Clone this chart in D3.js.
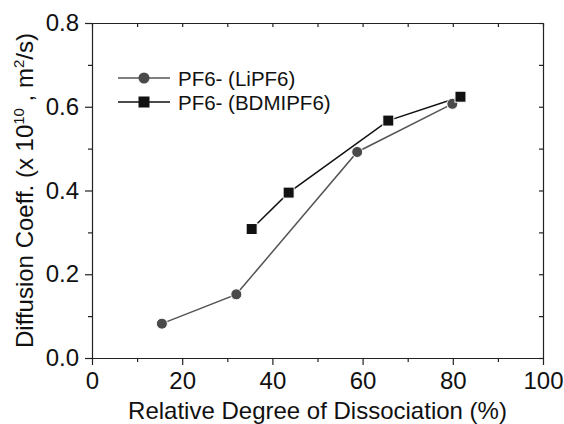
<!DOCTYPE html>
<html>
<head>
<meta charset="utf-8">
<script src="https://cdn.jsdelivr.net/npm/d3@7"></script>
<style>
  body { margin: 0; background: #fff; }
  text { font-family: Arial, "Liberation Sans", sans-serif; }
</style>
</head>
<body>
<svg width="564" height="424"></svg>
<script>
// data
const liX = [15.5, 32, 58.8, 79.9];
const liY = [0.082, 0.152, 0.492, 0.607];
const bdX = [35.4, 43.6, 65.7, 81.7];
const bdY = [0.308, 0.395, 0.567, 0.624];
const xTicks = [0, 20, 40, 60, 80, 100];
const yTicks = [0.0, 0.2, 0.4, 0.6, 0.8];
const seriesNames = ['PF6- (LiPF6)', 'PF6- (BDMIPF6)'];

const svg = d3.select('svg');
const x = d3.scaleLinear().domain([0, 100]).range([92, 543]);
const y = d3.scaleLinear().domain([0, 0.8]).range([358, 23]);

const li = liX.map((v, i) => ({x: v, y: liY[i]}));
const bd = bdX.map((v, i) => ({x: v, y: bdY[i]}));

// axes: outward ticks bottom/left, inward ticks top/right
const minorX = d3.range(10, 100, 20);
const minorY = d3.range(0.1, 0.8, 0.2);

svg.append('g').attr('transform', `translate(0,${y(0)})`)
  .call(d3.axisBottom(x).tickValues(xTicks).tickSize(7).tickSizeOuter(0).tickPadding(7));
svg.append('g').attr('transform', `translate(0,${y(0)})`)
  .call(d3.axisBottom(x).tickValues(minorX).tickSize(4).tickSizeOuter(0).tickFormat(''))
  .select('.domain').remove();

svg.append('g').attr('transform', `translate(${x(0)},0)`)
  .call(d3.axisLeft(y).tickValues(yTicks).tickSize(7).tickSizeOuter(0).tickPadding(6).tickFormat(d3.format('.1f')));
svg.append('g').attr('transform', `translate(${x(0)},0)`)
  .call(d3.axisLeft(y).tickValues(minorY).tickSize(4).tickSizeOuter(0).tickFormat(''))
  .select('.domain').remove();

svg.append('g').attr('transform', `translate(0,${y(0.8)})`)
  .call(d3.axisBottom(x).tickValues(xTicks.concat(minorX)).tickSize(4).tickSizeOuter(0).tickFormat(''));
svg.append('g').attr('transform', `translate(${x(100)},0)`)
  .call(d3.axisLeft(y).tickValues(yTicks.concat(minorY)).tickSize(4).tickSizeOuter(0).tickFormat(''));

svg.selectAll('.domain, .tick line').attr('stroke', '#222').attr('stroke-width', 1.2);
svg.selectAll('.tick text').attr('font-size', 24).attr('fill', '#111')
  .attr('font-family', 'Arial, "Liberation Sans", sans-serif');

// axis titles
svg.append('text')
  .attr('x', (x(0) + x(100)) / 2) .attr('y', 419)
  .attr('text-anchor', 'middle').attr('font-size', 24).attr('fill', '#111')
  .text('Relative Degree of Dissociation (%)');

const yt = svg.append('text')
  .attr('transform', `translate(33,${(y(0) + y(0.8)) / 2}) rotate(-90)`)
  .attr('text-anchor', 'middle').attr('font-size', 24).attr('fill', '#111');
yt.append('tspan').text('Diffusion Coeff. (x 10');
yt.append('tspan').attr('font-size', 15).attr('dy', -9).text('10');
yt.append('tspan').attr('dy', 9).text(' , m');
yt.append('tspan').attr('font-size', 15).attr('dy', -9).text('2');
yt.append('tspan').attr('dy', 9).text('/s)');

// lines
const line = d3.line().x(d => x(d.x)).y(d => y(d.y));
svg.append('path').datum(li).attr('d', line)
  .attr('fill', 'none').attr('stroke', '#555').attr('stroke-width', 1.5);
svg.append('path').datum(bd).attr('d', line)
  .attr('fill', 'none').attr('stroke', '#111').attr('stroke-width', 1.5);

// markers
svg.selectAll('.li').data(li).enter().append('circle')
  .attr('cx', d => x(d.x)).attr('cy', d => y(d.y)).attr('r', 5.5)
  .attr('fill', '#4a4a4a').attr('stroke', '#fff').attr('stroke-width', 1);
svg.selectAll('.bd').data(bd).enter().append('rect')
  .attr('x', d => x(d.x) - 5.5).attr('y', d => y(d.y) - 5.5)
  .attr('width', 11).attr('height', 11)
  .attr('fill', '#111').attr('stroke', '#fff').attr('stroke-width', 1);

// legend
const leg = svg.append('g');
seriesNames.forEach((name, i) => {
  const ly = 78 + i * 24;
  leg.append('line').attr('x1', 118).attr('x2', 170).attr('y1', ly).attr('y2', ly)
    .attr('stroke', i === 0 ? '#555' : '#111').attr('stroke-width', 1.5);
  if (i === 0) {
    leg.append('circle').attr('cx', 144).attr('cy', ly).attr('r', 5.5).attr('fill', '#4a4a4a');
  } else {
    leg.append('rect').attr('x', 138.5).attr('y', ly - 5.5).attr('width', 11).attr('height', 11).attr('fill', '#111');
  }
  leg.append('text').attr('x', 178).attr('y', ly + 7.5).attr('font-size', 20.5).attr('fill', '#111').text(name);
});
</script>
</body>
</html>
